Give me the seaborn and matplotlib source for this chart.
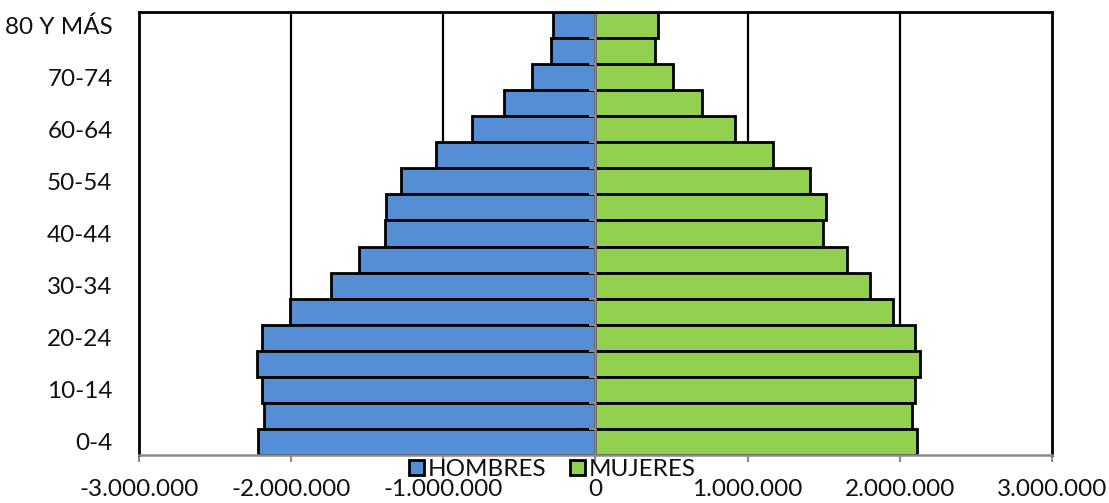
import matplotlib
matplotlib.use("Agg")
import matplotlib.pyplot as plt
from matplotlib.patches import Patch
from matplotlib.ticker import FuncFormatter, FixedLocator
import numpy as np
import pandas as pd
import seaborn as sns

# Age groups, youngest first
age_groups = ["0-4", "5-9", "10-14", "15-19", "20-24", "25-29", "30-34", "35-39",
              "40-44", "45-49", "50-54", "55-59", "60-64", "65-69", "70-74",
              "75-79", "80 Y MÁS"]

# Population by age group
hombres = [2217000, 2178000, 2189000, 2222000, 2193000, 2007000, 1737000, 1557000,
           1386000, 1375000, 1276000, 1046000, 811000, 603000, 417000, 292000, 281000]
mujeres = [2116000, 2079000, 2099000, 2132000, 2099000, 1956000, 1805000, 1651000,
           1498000, 1513000, 1410000, 1169000, 917000, 702000, 509000, 388000, 408000]

series = ["HOMBRES", "MUJERES"]
colors = {"HOMBRES": "#558ED5", "MUJERES": "#92D050"}

x_ticks = [-3000000, -2000000, -1000000, 0, 1000000, 2000000, 3000000]

df = pd.concat([
    pd.DataFrame({"edad": age_groups, "poblacion": [-v for v in hombres], "sexo": series[0]}),
    pd.DataFrame({"edad": age_groups, "poblacion": mujeres, "sexo": series[1]}),
])

sns.set_style("white")
plt.rcParams["font.family"] = ["Lato", "DejaVu Sans"]
FS = 17.5

fig = plt.figure(figsize=(11.09, 5.03), dpi=100)
ax = fig.add_axes([0.1253, 0.0954, 0.8233, 0.8807])

order = age_groups[::-1]  # oldest at the top
sns.barplot(data=df, x="poblacion", y="edad", hue="sexo", order=order,
            hue_order=series, palette=colors, saturation=1, orient="h", dodge=False,
            width=1.0, edgecolor="black", linewidth=2.0, legend=False,
            ax=ax, zorder=2)

ax.set_xlim(-3000000, 3000000)
ax.set_ylim(len(order) - 0.5, -0.5)

# vertical gridlines
for v in x_ticks:
    if v not in (0, x_ticks[0], x_ticks[-1]):
        ax.axvline(v, color="black", lw=1.6, zorder=1)

# category axis along zero, with small ticks at group boundaries
ax.axvline(0, color="#8C8C8C", lw=1.8, zorder=4)
bounds = np.arange(len(order) + 1) - 0.5
ax.hlines(bounds[1:-1], -40000, 0, color="#8C8C8C", lw=1.5, zorder=4)

# frame
for side in ["left", "top", "right"]:
    ax.spines[side].set_color("black")
    ax.spines[side].set_linewidth(2.0)
ax.spines["bottom"].set_color("#8C8C8C")
ax.spines["bottom"].set_linewidth(1.8)
for s in ax.spines.values():
    s.set_zorder(5)

# x axis
ax.xaxis.set_major_locator(FixedLocator(x_ticks))
ax.xaxis.set_major_formatter(FuncFormatter(
    lambda v, p: ("-" if v < 0 else "") + f"{abs(int(round(v))):,}".replace(",", ".")))
ax.tick_params(axis="x", direction="out", length=5, width=1.5, color="#8C8C8C",
               labelsize=FS, labelcolor="#111111", pad=12, bottom=True)

# y axis: label every other group
ax.set_yticks(range(len(order)))
ax.set_yticklabels([lab if i % 2 == 0 else "" for i, lab in enumerate(order)])
ax.tick_params(axis="y", length=0, labelsize=FS, labelcolor="#111111", pad=19)

ax.set_xlabel("")
ax.set_ylabel("")

handles = [Patch(facecolor=colors[s], edgecolor="black", linewidth=2.0) for s in series]
fig.legend(handles, series, loc="center", bbox_to_anchor=(0.498, 0.066), ncol=2,
           frameon=False, fontsize=FS, handlelength=0.6, handleheight=0.6,
           handletextpad=0.15, columnspacing=1.0, borderpad=0, labelcolor="#111111")

fig.savefig("out.png", dpi=100, facecolor="white")
